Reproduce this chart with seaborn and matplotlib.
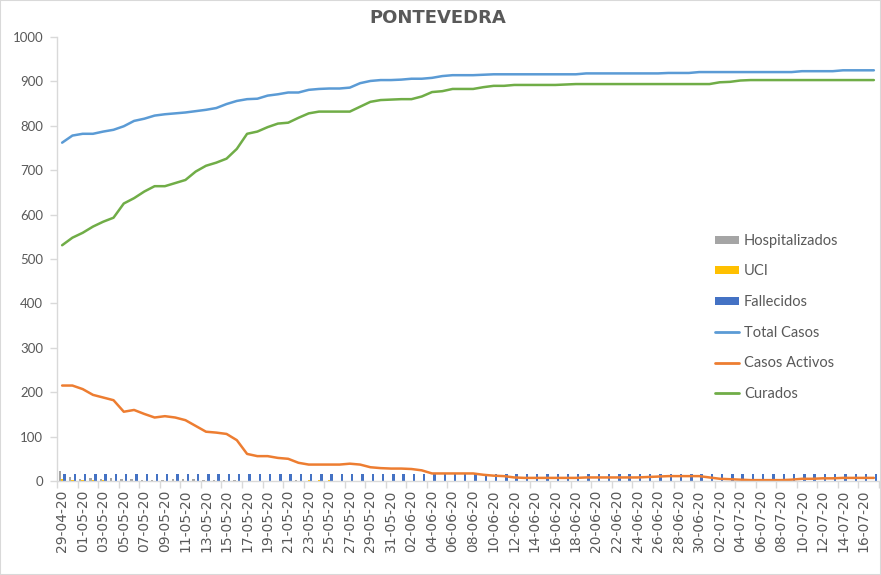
import numpy as np
import pandas as pd
import matplotlib
matplotlib.use("Agg")
import matplotlib.pyplot as plt
from matplotlib.patches import Patch, Rectangle
from matplotlib.lines import Line2D
import seaborn as sns

# ---------------- data ----------------
fechas = pd.date_range("2020-04-29", "2020-07-17", freq="D")
etiquetas = [d.strftime("%d-%m-%y") for d in fechas]

total_casos = [
    762, 778, 782, 782, 787, 791, 799, 811, 816, 823,
    826, 828, 830, 833, 836, 840, 849, 856, 860, 861,
    868, 871, 875, 875, 881, 883, 884, 884, 886, 896,
    901, 903, 903, 904, 906, 906, 908, 912, 914, 914,
    914, 915, 916, 916, 916, 916, 916, 916, 916, 916,
    916, 918, 918, 918, 918, 918, 918, 918, 918, 919,
    919, 919, 921, 921, 921, 921, 921, 921, 921, 921,
    921, 921, 923, 923, 923, 923, 925, 925, 925, 925,
]
curados = [
    531, 548, 559, 573, 584, 593, 625, 637, 652, 664,
    664, 671, 678, 697, 710, 717, 726, 748, 782, 787,
    797, 805, 807, 818, 828, 832, 832, 832, 832, 843,
    854, 858, 859, 860, 860, 866, 876, 878, 883, 883,
    883, 887, 890, 890, 892, 892, 892, 892, 892, 893,
    894, 894, 894, 894, 894, 894, 894, 894, 894, 894,
    894, 894, 894, 894, 898, 899, 902, 903, 903, 903,
    903, 903, 903, 903, 903, 903, 903, 903, 903, 903,
]
casos_activos = [
    215, 215, 207, 194, 188, 182, 156, 160, 151, 143,
    146, 143, 137, 124, 111, 109, 106, 92, 61, 56,
    56, 52, 50, 41, 37, 37, 37, 37, 39, 37,
    31, 29, 28, 28, 27, 24, 17, 17, 17, 17,
    17, 14, 12, 11, 8, 7, 7, 7, 7, 7,
    7, 8, 8, 8, 8, 8, 8, 9, 10, 11,
    11, 11, 11, 8, 5, 4, 3, 2, 2, 2,
    2, 3, 5, 5, 6, 6, 7, 7, 7, 7,
]
fallecidos = [
    16, 16, 16, 16, 16, 16, 16, 16, 16, 16,
    16, 16, 16, 16, 16, 16, 16, 16, 16, 16,
    16, 16, 16, 16, 16, 16, 16, 16, 16, 16,
    16, 16, 16, 16, 16, 16, 16, 16, 16, 16,
    16, 16, 16, 16, 16, 16, 16, 16, 16, 16,
    16, 16, 16, 16, 16, 16, 16, 16, 16, 16,
    16, 16, 16, 16, 16, 16, 16, 16, 16, 16,
    16, 16, 16, 16, 16, 16, 16, 16, 16, 16,
]
hospitalizados = [
    22, 10, 5, 7, 5, 7, 5, 5, 2, 2,
    2, 5, 5, 5, 2, 2, 2, 2, 0, 0,
    0, 0, 1, 2, 0, 0, 0, 1, 1, 0,
    0, 0, 0, 0, 0, 0, 0, 0, 0, 0,
    0, 0, 0, 0, 0, 0, 0, 0, 0, 0,
    0, 0, 0, 0, 0, 0, 0, 0, 0, 0,
    0, 0, 0, 0, 0, 0, 0, 0, 0, 0,
    0, 0, 0, 0, 1, 1, 1, 1, 1, 0,
]
uci = [
    4, 2, 2, 2, 2, 0, 0, 0, 0, 0,
    0, 0, 0, 0, 0, 0, 0, 0, 0, 0,
    0, 0, 0, 0, 2, 2, 2, 0, 0, 0,
    0, 0, 0, 0, 0, 0, 0, 0, 0, 0,
    0, 0, 0, 0, 0, 0, 0, 0, 0, 0,
    0, 0, 0, 0, 0, 0, 0, 0, 0, 0,
    0, 0, 0, 0, 0, 0, 0, 0, 0, 0,
    0, 0, 0, 0, 0, 0, 0, 0, 0, 0,
]

series_barras = ["Hospitalizados", "UCI", "Fallecidos"]
colores_barras = ["#A5A5A5", "#FFC000", "#4472C4"]
series_lineas = ["Total Casos", "Casos Activos", "Curados"]
colores_lineas = ["#5B9BD5", "#ED7D31", "#70AD47"]

# ---------------- figure ----------------
sns.set_theme(style="white")
plt.rcParams["font.family"] = ["Lato", "DejaVu Sans"]

fig = plt.figure(figsize=(8.81, 5.75), dpi=100)
ax = fig.add_axes([57 / 881, 1 - 481 / 575, (879 - 57) / 881, (481 - 37) / 575])

idx = np.arange(len(fechas))
df_bar = pd.DataFrame({
    "dia": np.tile(idx, 3),
    "valor": np.concatenate([hospitalizados, uci, fallecidos]),
    "serie": np.repeat(series_barras, len(fechas)),
})
sns.barplot(data=df_bar, x="dia", y="valor", hue="serie", hue_order=series_barras,
            palette=colores_barras, width=0.7, dodge=True, legend=False,
            saturation=1, ax=ax, linewidth=0)

for nombre, vals, col in zip(series_lineas, [total_casos, casos_activos, curados], colores_lineas):
    sns.lineplot(x=idx, y=vals, color=col, linewidth=1.8, ax=ax, legend=False)

ax.set_xlim(-0.5, len(fechas) - 0.5)
ax.set_ylim(0, 1000)
ax.set_xlabel("")
ax.set_ylabel("")

# y axis
ax.set_yticks(np.arange(0, 1001, 100))
ax.tick_params(axis="y", which="major", length=5, color="#D9D9D9", width=1,
               labelcolor="#595959", labelsize=9.5, pad=5, left=True)

# x axis: labels every 2 days, tick marks between categories
ax.set_xticks(idx[::2])
ax.set_xticklabels(etiquetas[::2], rotation=90, fontfamily="DejaVu Sans")
ax.set_xticks(np.arange(-0.5, len(fechas), 2), minor=True)
ax.tick_params(axis="x", which="major", length=0, labelcolor="#595959", labelsize=10, pad=6)
ax.tick_params(axis="x", which="minor", length=5, color="#D9D9D9", width=1, bottom=True)

for s in ["top", "right"]:
    ax.spines[s].set_visible(False)
for s in ["left", "bottom"]:
    ax.spines[s].set_color("#D9D9D9")
    ax.spines[s].set_linewidth(1)
ax.grid(False)

# legend
handles = [Patch(facecolor=c, edgecolor="none") for c in colores_barras] + \
          [Line2D([0], [0], color=c, linewidth=2.0) for c in colores_lineas]
labels = series_barras + series_lineas
leg = fig.legend(handles, labels, loc="upper left", bbox_to_anchor=(709 / 881, 1 - 228 / 575),
                 frameon=False, fontsize=10.5, handlelength=1.65, handleheight=0.5,
                 handletextpad=0.35, labelspacing=1.14, borderaxespad=0)
for t in leg.get_texts():
    t.set_color("#595959")

fig.text(438 / 881, 1 - 18 / 575, "PONTEVEDRA", ha="center", va="center",
         fontsize=13, fontweight="bold", color="#595959", fontfamily="DejaVu Sans")

fig.patches.append(Rectangle((0, 0), 1, 1, transform=fig.transFigure, fill=False,
                             edgecolor="#D9D9D9", linewidth=1.5))

fig.savefig("out.png", dpi=100, facecolor="white")
